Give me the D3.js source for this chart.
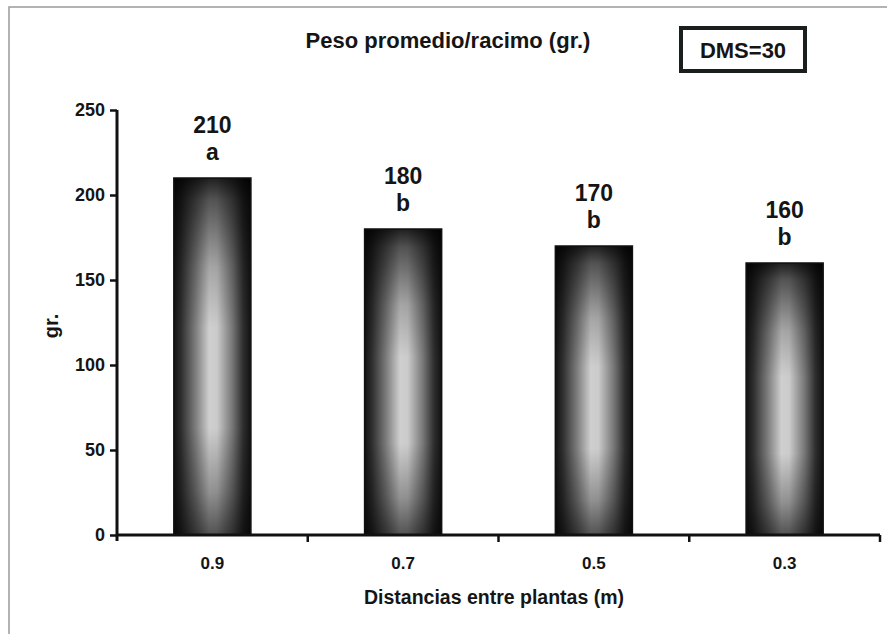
<!DOCTYPE html>
<html>
<head>
<meta charset="utf-8">
<script src="https://cdn.jsdelivr.net/npm/d3@7/dist/d3.min.js"></script>
<style>
  html, body { margin: 0; padding: 0; background: #fff; }
  svg { display: block; }
  text { font-family: "Liberation Sans", Arial, sans-serif; font-weight: bold; fill: #151515; }
</style>
</head>
<body>
<svg id="chart" width="887" height="634"></svg>
<script>
// Average bunch weight by plant spacing
const distances = ["0.9", "0.7", "0.5", "0.3"];
const weights = [210, 180, 170, 160];
const groups = ["a", "b", "b", "b"];
const yTicks = [0, 50, 100, 150, 200, 250];

const svg = d3.select("#chart");
const margin = { left: 117, right: 7, top: 110, bottom: 99 };
const W = 887, H = 634;

// outer frame
svg.append("rect")
  .attr("x", 9).attr("y", 7)
  .attr("width", W + 10).attr("height", H + 10)
  .attr("fill", "none").attr("stroke", "#9a9a9a").attr("stroke-width", 1.5);

const x = d3.scaleBand()
  .domain(distances)
  .range([margin.left, W - margin.right])
  .paddingInner(0.596)
  .paddingOuter(0.298);

const y = d3.scaleLinear()
  .domain([0, 250])
  .range([H - margin.bottom, margin.top]);

// bar shading: dark edges, light core, darker top and base
const defs = svg.append("defs");
const hg = defs.append("linearGradient").attr("id", "barH")
  .attr("x1", 0).attr("x2", 1).attr("y1", 0).attr("y2", 0);
[[0, "#121212"], [0.1, "#303030"], [0.28, "#7c7c7c"], [0.46, "#cfcfcf"],
 [0.56, "#cbcbcb"], [0.76, "#767676"], [0.9, "#2e2e2e"], [1, "#121212"]]
  .forEach(([o, c]) => hg.append("stop").attr("offset", o).attr("stop-color", c));

const vg = defs.append("linearGradient").attr("id", "barV")
  .attr("x1", 0).attr("x2", 0).attr("y1", 0).attr("y2", 1);
[[0, 0.85], [0.06, 0.6], [0.25, 0.2], [0.42, 0], [0.7, 0], [0.88, 0.3], [1, 0.6]]
  .forEach(([o, a]) => vg.append("stop").attr("offset", o)
    .attr("stop-color", "#000").attr("stop-opacity", a));

const bars = svg.append("g").selectAll("g")
  .data(distances.map((d, i) => ({ d, v: weights[i], g: groups[i] })))
  .join("g");

bars.append("rect")
  .attr("x", d => x(d.d)).attr("y", d => y(d.v))
  .attr("width", x.bandwidth()).attr("height", d => y(0) - y(d.v))
  .attr("fill", "url(#barH)");

bars.append("rect")
  .attr("x", d => x(d.d)).attr("y", d => y(d.v))
  .attr("width", x.bandwidth()).attr("height", d => y(0) - y(d.v))
  .attr("fill", "url(#barV)")
  .attr("stroke", "#111").attr("stroke-width", 1.5);

// value and significance letter above each bar
bars.append("text")
  .attr("x", d => x(d.d) + x.bandwidth() / 2)
  .attr("y", d => y(d.v) - 45)
  .attr("text-anchor", "middle")
  .style("font-size", "23px")
  .text(d => d.v);

bars.append("text")
  .attr("x", d => x(d.d) + x.bandwidth() / 2)
  .attr("y", d => y(d.v) - 18)
  .attr("text-anchor", "middle")
  .style("font-size", "23px")
  .text(d => d.g);

// y axis
const yAxis = svg.append("g")
  .attr("transform", `translate(${margin.left},0)`)
  .call(d3.axisLeft(y).tickValues(yTicks).tickSize(7).tickPadding(5));
yAxis.select(".domain").attr("stroke", "#111").attr("stroke-width", 3)
  .attr("d", `M0,${y(250)}V${y(0) + 6}`);
yAxis.selectAll(".tick line").attr("stroke", "#111").attr("stroke-width", 2.5);
yAxis.selectAll(".tick text").style("font-size", "18px").attr("fill", "#151515")
  .style("font-family", '"Liberation Sans", Arial, sans-serif').style("font-weight", "bold");

// x axis: ticks at band boundaries
const xAxisG = svg.append("g").attr("transform", `translate(0,${y(0)})`);
xAxisG.append("line")
  .attr("x1", margin.left).attr("x2", W - margin.right)
  .attr("stroke", "#111").attr("stroke-width", 3);
const bounds = distances.map(d => x(d) - x.step() * x.paddingInner() / 2).slice(1)
  .concat([W - margin.right]);
xAxisG.selectAll(".bt").data(bounds).join("line")
  .attr("x1", d => d).attr("x2", d => d).attr("y1", 0).attr("y2", 7)
  .attr("stroke", "#111").attr("stroke-width", 2.5);
xAxisG.selectAll(".xl").data(distances).join("text")
  .attr("x", d => x(d) + x.bandwidth() / 2)
  .attr("y", 34)
  .attr("text-anchor", "middle")
  .style("font-size", "17px")
  .text(d => d);

// titles
svg.append("text")
  .attr("x", 448).attr("y", 48)
  .attr("text-anchor", "middle")
  .style("font-size", "22px")
  .text("Peso promedio/racimo (gr.)");

svg.append("text")
  .attr("x", 494).attr("y", 604)
  .attr("text-anchor", "middle")
  .style("font-size", "19.5px")
  .text("Distancias entre plantas (m)");

svg.append("text")
  .attr("transform", "translate(58,326) rotate(-90)")
  .attr("text-anchor", "middle")
  .style("font-size", "20px")
  .text("gr.");

// DMS box
svg.append("rect")
  .attr("x", 681).attr("y", 28).attr("width", 124).attr("height", 43)
  .attr("fill", "#fff").attr("stroke", "#1a1f1c").attr("stroke-width", 4);
svg.append("text")
  .attr("x", 743).attr("y", 58)
  .attr("text-anchor", "middle")
  .style("font-size", "22px")
  .text("DMS=30");
</script>
</body>
</html>
